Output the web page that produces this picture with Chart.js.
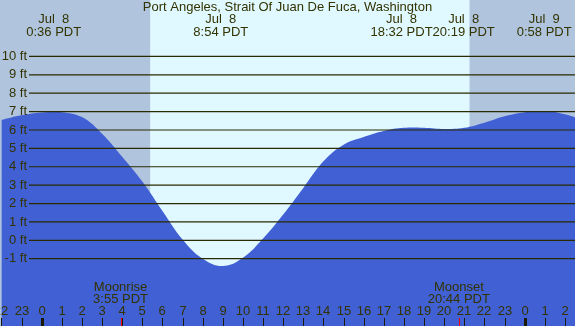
<!DOCTYPE html>
<html>
<head>
<meta charset="utf-8">
<script src="https://cdn.jsdelivr.net/npm/chart.js@4"></script>
<style>
  html, body { margin: 0; padding: 0; background: #B0C4DE; }
  canvas { display: block; }
</style>
</head>
<body>
<canvas id="tideChart" width="575" height="326"></canvas>
<script>
// hours relative to midnight Jul 8 (PDT)
const hours = [-2, -1, 0, 1, 2, 3, 4, 5, 6, 7, 8, 9, 10, 11, 12, 13, 14, 15, 16, 17, 18, 19, 20, 21, 22, 23, 24, 25, 26, 27];
const heights = [6.55, 6.8, 6.95, 6.97, 6.7, 5.8, 4.55, 3.2, 1.6, 0.05, -1.0, -1.4, -0.95, 0.1, 1.4, 2.85, 4.3, 5.2, 5.62, 5.95, 6.12, 6.12, 6.05, 6.12, 6.4, 6.75, 6.97, 7.03, 6.85, 6.5];

const gridFeet = [-1, 0, 1, 2, 3, 4, 5, 6, 7, 8, 9, 10];

// high / low tide labels
const eventHours = [0.6, 8.9, 18.53, 20.32, 24.97];
const eventDates = ["Jul  8", "Jul  8", "Jul  8", "Jul  8", "Jul  9"];
const eventTimes = ["0:36 PDT", "8:54 PDT", "18:32 PDT", "20:19 PDT", "0:58 PDT"];

const sunrise = 5.39;
const sunset = 21.26;
const moonrise = 3.92;   // 3:55
const moonset = 20.73;   // 20:44

const title = "Port Angeles, Strait Of Juan De Fuca, Washington";

const textColor = "#333300";
const FONT = "13px 'Liberation Sans', Arial, sans-serif";

const tideDecor = {
    id: "tideDecor",
    beforeDatasetsDraw(chart) {
        const { ctx, chartArea, scales } = chart;
        const x = scales.x;
        const sr = x.getPixelForValue(sunrise);
        const ss = x.getPixelForValue(sunset);
        ctx.save();
        ctx.fillStyle = "#B0C4DE";
        ctx.fillRect(chartArea.left, chartArea.top, chartArea.width, chartArea.height);
        ctx.fillStyle = "#E0F8FF";
        ctx.fillRect(sr, chartArea.top, ss - sr, chartArea.height);
        ctx.restore();
    },
    afterDatasetsDraw(chart) {
        const { ctx, chartArea, scales } = chart;
        const x = scales.x, y = scales.y;
        ctx.save();
        ctx.font = FONT;
        ctx.fillStyle = textColor;

        // horizontal lines + feet labels
        ctx.strokeStyle = "#2a2a00";
        ctx.lineWidth = 1.2;
        ctx.textAlign = "right";
        ctx.textBaseline = "middle";
        gridFeet.forEach(f => {
            const py = y.getPixelForValue(f);
            ctx.beginPath();
            ctx.moveTo(29, py);
            ctx.lineTo(chartArea.right, py);
            ctx.stroke();
            ctx.fillText(f + " ft", 27, py);
        });

        // title
        ctx.textAlign = "center";
        ctx.fillText(title, chartArea.width / 2, 7.5);

        // event labels, pushed apart when they collide
        const centers = eventHours.map(h => x.getPixelForValue(h));
        const widths = eventTimes.map(t => ctx.measureText(t).width);
        for (let i = 1; i < centers.length; i++) {
            const need = (widths[i - 1] + widths[i]) / 2;
            const gap = centers[i] - centers[i - 1];
            if (gap < need) {
                const shift = (need - gap) / 2;
                centers[i - 1] -= shift;
                centers[i] += shift;
            }
        }
        centers.forEach((cx, i) => {
            ctx.fillText(eventDates[i], cx, 19.5);
            ctx.fillText(eventTimes[i], cx, 32);
        });

        // moon labels
        [[moonrise, "Moonrise", "3:55 PDT"], [moonset, "Moonset", "20:44 PDT"]].forEach(m => {
            const cx = x.getPixelForValue(m[0]);
            ctx.fillText(m[1], cx, 287.5);
            ctx.fillText(m[2], cx, 299.5);
        });

        // hour ticks
        for (let h = Math.ceil(x.min); h <= Math.floor(x.max); h++) {
            const px = Math.round(x.getPixelForValue(h));
            const lbl = ((h % 24) + 24) % 24;
            ctx.fillStyle = textColor;
            ctx.fillText(String(lbl), px, 311.5);
            ctx.fillStyle = "#1a1a00";
            if (lbl === 0) ctx.fillRect(px - 1, 318, 3, chartArea.bottom - 318);
            else ctx.fillRect(px, 318, 1, chartArea.bottom - 318);
        }
        ctx.fillStyle = "#ff0000";
        [moonrise, moonset].forEach(h => {
            ctx.fillRect(Math.round(x.getPixelForValue(h)), 318, 1, chartArea.bottom - 318);
        });
        ctx.restore();
    }
};

new Chart(document.getElementById("tideChart").getContext("2d"), {
    type: "line",
    data: {
        datasets: [{
            data: hours.map((h, i) => ({ x: h, y: heights[i] })),
            fill: "start",
            backgroundColor: "#4060D4",
            borderWidth: 0,
            pointRadius: 0,
            tension: 0.4
        }]
    },
    options: {
        responsive: false,
        animation: false,
        devicePixelRatio: 1,
        layout: { padding: 0 },
        scales: {
            x: { type: "linear", min: -2.07, max: 26.5, display: false },
            y: { min: -4.66, max: 13.07, display: false }
        },
        plugins: {
            legend: { display: false },
            tooltip: { enabled: false }
        }
    },
    plugins: [tideDecor]
});
</script>
</body>
</html>
